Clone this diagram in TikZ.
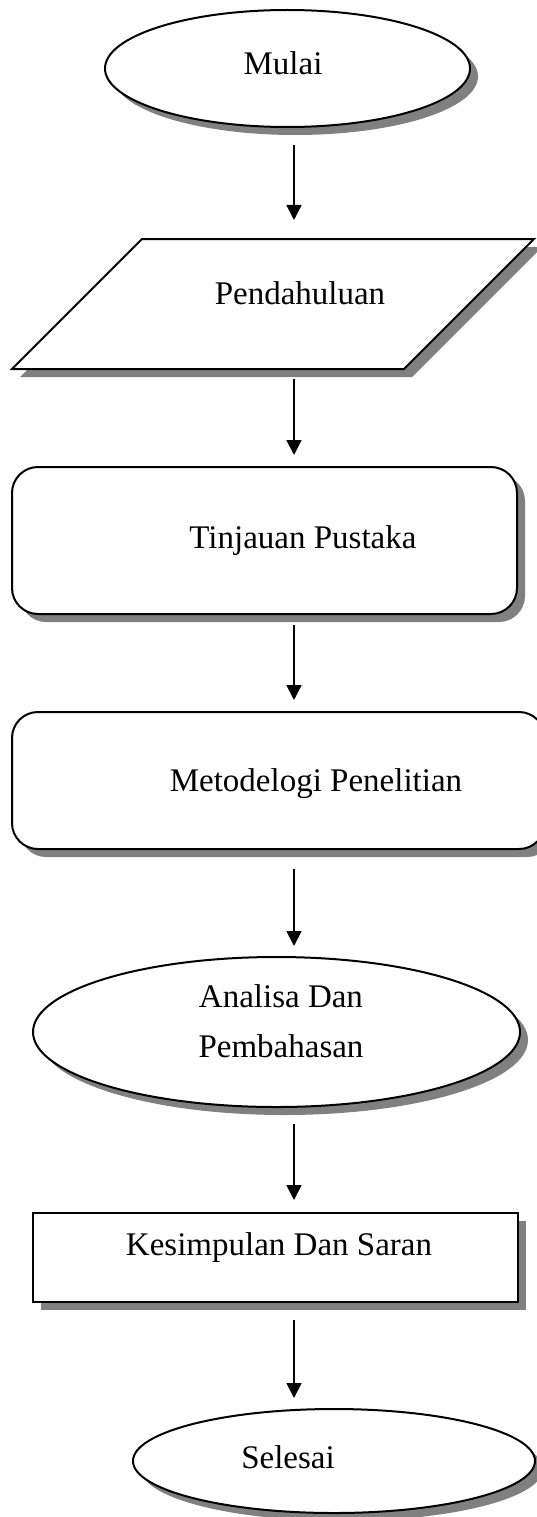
\documentclass[tikz,border=0pt]{standalone}
\usepackage{fontspec}
\setmainfont{Liberation Serif}
\usetikzlibrary{shapes.geometric,shadows,arrows.meta}
\begin{document}
\begin{tikzpicture}[x=1pt,y=-1pt,
  shad/.style={drop shadow={shadow xshift=8pt,shadow yshift=-8pt,fill=black!50,opacity=1}},
  box/.style={draw=black,line width=2pt,fill=white,shad},
  oval/.style={box,ellipse,inner sep=0pt},
  rbox/.style={box,rectangle,rounded corners=26pt,inner sep=0pt},
  sbox/.style={box,rectangle,inner sep=0pt},
  lbl/.style={anchor=base,inner sep=0pt,font=\fontsize{33}{50}\selectfont},
  flow/.style={line width=1.8pt,-{Triangle[length=15pt,width=15pt]}}]
\useasboundingbox (0,0) rectangle (537,1517);
\fill[white] (0,0) rectangle (537,1517);
% shapes
\node[oval,minimum width=365pt,minimum height=117pt] (mulai) at (287.5,68.5) {};
\filldraw[box] (142,239) -- (534,239) -- (404,369) -- (12,369) -- cycle;
\coordinate (pend) at (273,304);
\node[rbox,minimum width=505pt,minimum height=147pt] (tinj) at (264.5,540.5) {};
\node[rbox,minimum width=533pt,minimum height=137pt] (meto) at (278.5,780.5) {};
\node[oval,minimum width=487pt,minimum height=150pt] (anal) at (276.5,1032) {};
\node[sbox,minimum width=485pt,minimum height=89pt] (kesi) at (275.5,1257.5) {};
\node[oval,minimum width=402pt,minimum height=104pt] (sele) at (334,1461) {};
% texts
\node[lbl] (tmulai) at (283,75) {Mulai};
\node[lbl] (tpend) at (300,304) {Pendahuluan};
\node[lbl] (ttinj) at (303,548) {Tinjauan Pustaka};
\node[lbl] (tmeto) at (316,791) {Metodelogi Penelitian};
\node[lbl,align=center] (tanal) at (281,1057) {Analisa Dan\\Pembahasan};
\node[lbl] (tkesi) at (279,1255) {Kesimpulan Dan Saran};
\node[lbl] (tsele) at (288,1468) {Selesai};
% arrow ends
\coordinate (s1) at (294,145);  \coordinate (e1) at (294,220);
\coordinate (s2) at (294,379);  \coordinate (e2) at (294,455);
\coordinate (s3) at (294,625);  \coordinate (e3) at (294,700);
\coordinate (s4) at (294,869);  \coordinate (e4) at (294,946);
\coordinate (s5) at (294,1124); \coordinate (e5) at (294,1200);
\coordinate (s6) at (294,1320); \coordinate (e6) at (294,1398);
\draw[flow] (s1) -- (e1);
\draw[flow] (s2) -- (e2);
\draw[flow] (s3) -- (e3);
\draw[flow] (s4) -- (e4);
\draw[flow] (s5) -- (e5);
\draw[flow] (s6) -- (e6);
\end{tikzpicture}
\end{document}
